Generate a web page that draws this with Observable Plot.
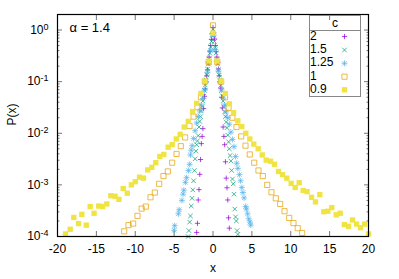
<!DOCTYPE html>
<html><head><meta charset="utf-8">
<script src="https://cdn.jsdelivr.net/npm/d3@7"></script>
<script src="https://cdn.jsdelivr.net/npm/@observablehq/plot@0.6"></script>
<style>
body{margin:0;background:#fff;font-family:"Liberation Sans",Arial,sans-serif;}
#wrap{position:relative;width:399px;height:279px;overflow:hidden;}
#wrap svg{position:absolute;left:0;top:0;}
</style></head><body><div id="wrap"></div>
<script>
// ---- axis ticks / labels ----
const xTicks = [-20, -15, -10, -5, 0, 5, 10, 15, 20];
const yTicks = [1e-4, 1e-3, 1e-2, 1e-1, 1];
const yMinorMult = [2, 3, 4, 5, 6, 7, 8, 9];
const seriesLabels = ["2", "1.5", "1.25", "1", "0.9"];
const seriesColors = ["#9400d3", "#009e73", "#56b4e9", "#e69f00", "#f0e442"];
const legendTitle = "c";
const annotation = "α = 1.4";

// ---- c = 2 (purple +) ----
const c2x = [-2.1,-2.0,-1.9,-1.8,-1.7,-1.6,-1.5,-1.4,-1.3,-1.2,-1.1,-1.0,-0.9,-0.8,-0.7,-0.6,-0.5,-0.4,-0.3,-0.2,-0.1,0,
  0.1,0.2,0.3,0.4,0.5,0.6,0.7,0.8,0.9,1.0,1.1,1.2,1.3,1.4,1.5,1.6,1.7,1.8,1.9,2.0,2.1];
const c2y = [1.2e-4,1.8e-4,5.1e-4,8.1e-4,1.6e-3,3.1e-3,6.3e-3,8.7e-3,0.0123,0.03,0.052,0.072,0.1,0.13,0.17,0.23,0.3,0.39,0.5,0.66,0.86,1.12,
  0.88,0.67,0.5,0.38,0.3,0.235,0.175,0.13,0.1,0.075,0.05,0.031,0.0132,8.7e-3,6.0e-3,2.8e-3,1.35e-3,8.8e-4,5.1e-4,2.3e-4,1.45e-4];

// ---- c = 1.5 (green x) ----
const c15x = [-3.2,-3.1,-3.0,-2.9,-2.8,-2.7,-2.6,-2.5,-2.4,-2.3,-2.2,-2.1,-2.0,-1.9,-1.8,-1.7,-1.6,-1.5,-1.4,-1.3,-1.2,-1.1,-1.0,-0.9,-0.8,-0.7,-0.6,-0.5,-0.4,-0.3,-0.2,-0.1,0,
  0.1,0.2,0.3,0.4,0.5,0.6,0.7,0.8,0.9,1.0,1.1,1.2,1.3,1.4,1.5,1.6,1.7,1.8,1.9,2.0,2.1,2.2,2.3,2.4,2.5,2.6,2.7,2.8,2.9,3.0,3.1,3.2];
const c15y = [1.0e-4,1.3e-4,1.9e-4,2.5e-4,3.9e-4,5.5e-4,8.0e-4,1.2e-3,1.9e-3,3.2e-3,4.5e-3,6.0e-3,7.1e-3,9.0e-3,0.0132,0.017,0.021,0.027,0.033,0.042,0.052,0.068,0.086,0.107,0.135,0.175,0.22,0.275,0.355,0.47,0.6,0.79,1.05,
  0.8,0.6,0.46,0.36,0.27,0.22,0.17,0.134,0.106,0.085,0.067,0.053,0.042,0.033,0.026,0.021,0.0165,0.0128,9.2e-3,6.8e-3,5.0e-3,3.7e-3,2.9e-3,1.9e-3,1.3e-3,1.05e-3,6.6e-4,3.4e-4,2.4e-4,2.0e-4,1.3e-4,1.1e-4];

// ---- c = 1.25 (blue asterisk) ----
const c125x = [-5.0,-4.93,-4.45,-4.35,-4.0,-3.85,-3.75,-3.55,-3.4,-3.15,-3.0,-2.9,-2.8,-2.68,-2.5,-2.3,-2.1,-1.9,-1.7,-1.5,-1.3,-1.1,-0.9,-0.7,-0.5,-0.3,-0.1,
  0.1,0.3,0.5,0.7,0.9,1.1,1.3,1.5,1.7,1.9,2.1,2.3,2.5,2.7,2.9,3.05,3.2,3.4,3.55,3.7,3.85,4.0,4.2,4.3,4.45,4.6,4.75,4.85];
const c125y = [1.32e-4,1.62e-4,2.75e-4,3.3e-4,5.0e-4,6.6e-4,7.9e-4,1.12e-3,1.38e-3,1.9e-3,2.5e-3,3.8e-3,4.7e-3,5.75e-3,7.9e-3,0.0112,0.0158,0.021,0.027,0.035,0.047,0.068,0.1,0.15,0.24,0.4,0.83,
  0.79,0.42,0.25,0.16,0.1,0.069,0.048,0.035,0.026,0.02,0.015,0.0105,7.6e-3,5.5e-3,3.55e-3,2.63e-3,2.09e-3,1.58e-3,1.2e-3,8.9e-4,7.1e-4,5.6e-4,3.8e-4,3.4e-4,2.75e-4,2.2e-4,1.9e-4,1.66e-4];

// ---- c = 1 (orange open square) ----
const c1x = [-11.42,-10.87,-10.27,-9.71,-9.18,-8.64,-8.04,-7.48,-6.92,-6.37,-5.81,-5.25,-4.69,-4.14,-3.58,-3.02,-2.5,-2.0,-1.55,-1.05,-0.55,0,
  0.55,1.05,1.55,2.0,2.5,3.02,3.62,4.18,4.73,5.3,5.85,6.41,6.97,7.52,8.08,8.64,9.2,9.8,10.35,10.9,11.47];
const c1y = [1.26e-4,1.66e-4,1.78e-4,2.51e-4,3.47e-4,3.8e-4,5.75e-4,7.1e-4,1.05e-3,1.48e-3,1.82e-3,2.69e-3,3.98e-3,5.62e-3,8.3e-3,0.0138,0.021,0.032,0.05,0.1,0.24,1.23,
  0.24,0.1,0.05,0.031,0.02,0.0132,8.7e-3,5.75e-3,3.89e-3,2.69e-3,1.9e-3,1.48e-3,1.0e-3,7.2e-4,5.5e-4,4.27e-4,3.09e-4,2.29e-4,1.82e-4,1.45e-4,1.17e-4];

// ---- c = 0.9 (yellow filled square) ----
const c09x = [-18.97,-18.37,-17.9,-17.3,-16.87,-16.3,-15.8,-15.3,-14.7,-14.2,-13.66,-13.14,-12.6,-12.1,-11.55,-11.03,-10.5,-10.0,-9.45,-8.94,-8.4,-7.87,-7.36,-6.84,-6.33,-5.77,-5.25,-4.73,-4.22,-3.7,-3.19,-2.63,-2.1,-1.55,-1.03,-0.5,0,
  0.52,1.05,1.58,2.1,2.65,3.19,3.7,4.22,4.73,5.25,5.81,6.33,6.84,7.4,7.91,8.42,8.94,9.49,10.05,10.57,11.09,11.6,12.1,12.67,13.18,13.74,14.25,14.77,15.28,15.85,16.36,16.9,17.43,17.94,18.46,18.97,19.5,20.0];
const c09y = [1.12e-4,1.38e-4,2.34e-4,1.78e-4,2.69e-4,1.66e-4,3.8e-4,2.82e-4,3.89e-4,3.8e-4,4.27e-4,6.17e-4,6.03e-4,5.25e-4,8.5e-4,6.9e-4,1.0e-3,1.15e-3,1.41e-3,1.35e-3,1.95e-3,2.19e-3,2.69e-3,3.55e-3,3.89e-3,5.37e-3,6.03e-3,7.76e-3,9.55e-3,0.0132,0.017,0.0263,0.038,0.0589,0.102,0.251,0.87,
  0.251,0.102,0.0589,0.0372,0.0251,0.0174,0.0135,0.01,7.76e-3,6.17e-3,5.0e-3,3.8e-3,3.02e-3,2.88e-3,2.51e-3,1.82e-3,1.58e-3,1.35e-3,1.07e-3,8.9e-4,1.1e-3,7.8e-4,7.4e-4,5.75e-4,4.68e-4,6.46e-4,3.02e-4,3.09e-4,3.63e-4,2.63e-4,2.82e-4,1.7e-4,1.58e-4,2.09e-4,1.74e-4,1.48e-4,1.74e-4,1.12e-4];

// ---- custom gnuplot-like symbols ----
const R = s => Math.sqrt(s / Math.PI);
const symPlus = {draw(c, s){const r = R(s); c.moveTo(-r,0); c.lineTo(r,0); c.moveTo(0,-r); c.lineTo(0,r);}};
const symTimes = {draw(c, s){const r = R(s)*0.8; c.moveTo(-r,-r); c.lineTo(r,r); c.moveTo(-r,r); c.lineTo(r,-r);}};
const symStar = {draw(c, s){const r = R(s); const q = r*0.75; c.moveTo(-r,0); c.lineTo(r,0); c.moveTo(0,-r); c.lineTo(0,r); c.moveTo(-q,-q); c.lineTo(q,q); c.moveTo(-q,q); c.lineTo(q,-q);}};
const symSquare = {draw(c, s){const r = R(s)*0.92; c.moveTo(-r,-r); c.lineTo(r,-r); c.lineTo(r,r); c.lineTo(-r,r); c.closePath();}};

const series = [
  {xs: c2x, ys: c2y, sym: symPlus, r: 2.6, filled: false},
  {xs: c15x, ys: c15y, sym: symTimes, r: 2.8, filled: false},
  {xs: c125x, ys: c125y, sym: symStar, r: 3.0, filled: false},
  {xs: c1x, ys: c1y, sym: symSquare, r: 2.8, filled: false},
  {xs: c09x, ys: c09y, sym: symSquare, r: 2.9, filled: true}
];

const yMinor = [];
for (const t of yTicks.slice(0, -1)) for (const m of yMinorMult) yMinor.push(t * m);
yMinor.push(2);

const tickColor = "#777";
const strokeOp = 0.72;
const marks = [];
series.forEach((s, i) => {
  const data = s.xs.map((x, j) => ({x, y: s.ys[j]}));
  marks.push(Plot.dot(data, {
    x: "x", y: "y", symbol: s.sym, r: s.r,
    fill: s.filled ? seriesColors[i] : "none",
    stroke: s.filled ? "none" : seriesColors[i],
    strokeOpacity: strokeOp,
    strokeWidth: 1
  }));
});

// ticks (inward, mirrored)
marks.push(
  Plot.axisX({ticks: xTicks, anchor: "bottom", tickSize: -5, tickFormat: () => "", stroke: tickColor, label: null}),
  Plot.axisX({ticks: xTicks, anchor: "top", tickSize: -5, tickFormat: () => "", stroke: tickColor, label: null}),
  Plot.axisY({ticks: yTicks, anchor: "left", tickSize: -5, tickFormat: () => "", stroke: tickColor, label: null}),
  Plot.axisY({ticks: yTicks, anchor: "right", tickSize: -5, tickFormat: () => "", stroke: tickColor, label: null}),
  Plot.axisY({ticks: yMinor, anchor: "left", tickSize: -2.5, tickFormat: () => "", stroke: tickColor, label: null}),
  Plot.axisY({ticks: yMinor, anchor: "right", tickSize: -2.5, tickFormat: () => "", stroke: tickColor, label: null}),
  // labels
  Plot.axisX({ticks: xTicks, anchor: "bottom", tickSize: 0, tickPadding: 8, tickFormat: d => String(d), fontSize: 12, fill: "black", label: null}),
  Plot.axisY({ticks: yTicks, anchor: "left", tickSize: 0, tickPadding: 9, tickFormat: d => "10^" + Math.round(Math.log10(d)), fontSize: 12, fill: "black", label: null}),
  Plot.frame({stroke: "black", strokeWidth: 1.2}),
  Plot.text(["x"], {frameAnchor: "bottom", dy: 32, fontSize: 12, fill: "black", lineAnchor: "middle"}),
  Plot.text(["P(x)"], {frameAnchor: "left", dx: -45, rotate: -90, fontSize: 12, fill: "black", lineAnchor: "middle"}),
  Plot.text([annotation], {frameAnchor: "top-left", dx: 12, dy: 13, textAnchor: "start", lineAnchor: "middle", fontSize: 13, fill: "black"})
);

const chart = Plot.plot({
  width: 399, height: 279,
  marginLeft: 57, marginRight: 31, marginTop: 14, marginBottom: 43,
  style: {fontFamily: "'Liberation Sans', Arial, sans-serif", background: "white", color: "black"},
  x: {domain: [-20, 20]},
  y: {type: "log", domain: [1e-4, 2]},
  marks
});
document.getElementById("wrap").appendChild(chart);

// superscript exponents on y tick labels
d3.select(chart).selectAll('g[aria-label="y-axis tick label"] text').each(function () {
  const t = this.textContent;
  if (!t.startsWith("10^")) return;
  const exp = t.slice(3);
  const sel = d3.select(this);
  sel.text("");
  sel.append("tspan").text("10");
  sel.append("tspan").attr("dy", "-0.45em").attr("font-size", "9px").text(exp);
});

// legend (inside plot, top-right)
const leg = d3.select("#wrap").append("svg").attr("width", 399).attr("height", 279)
  .style("font-family", "'Liberation Sans', Arial, sans-serif").style("pointer-events", "none");
leg.append("rect").attr("x", 309.5).attr("y", 15.5).attr("width", 51).attr("height", 81)
  .attr("fill", "none").attr("stroke", "#888").attr("stroke-width", 1);
leg.append("line").attr("x1", 309.5).attr("x2", 360.5).attr("y1", 30.5).attr("y2", 30.5)
  .attr("stroke", "#888").attr("stroke-width", 1);
leg.append("text").attr("x", 335).attr("y", 23.5).attr("text-anchor", "middle")
  .attr("dominant-baseline", "middle").attr("font-size", 12).text(legendTitle);
const rowY = [36.5, 50, 63.3, 76.7, 89.8];
series.forEach((s, i) => {
  leg.append("text").attr("x", 310).attr("y", rowY[i]).attr("dominant-baseline", "middle")
    .attr("font-size", 12).text(seriesLabels[i]);
  leg.append("path").attr("transform", `translate(344.5,${rowY[i]})`)
    .attr("d", d3.symbol(s.sym, Math.PI * s.r * s.r)())
    .attr("fill", s.filled ? seriesColors[i] : "none")
    .attr("stroke", s.filled ? "none" : seriesColors[i])
    .attr("stroke-opacity", strokeOp).attr("stroke-width", 1);
});
</script></body></html>
